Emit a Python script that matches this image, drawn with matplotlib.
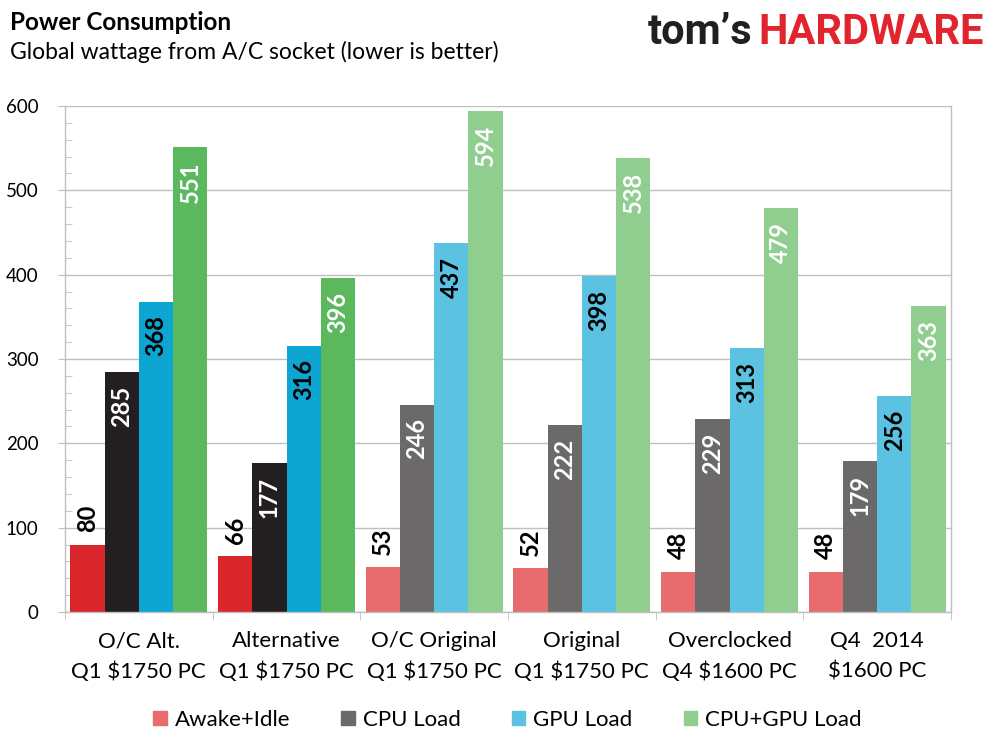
import numpy as np
import matplotlib
matplotlib.use('Agg')
import matplotlib.pyplot as plt
from matplotlib.patches import Patch

plt.rcParams['font.family'] = ['Lato', 'DejaVu Sans']

# data
grupos = ['O/C Alt.\nQ1 $1750 PC', 'Alternative\nQ1 $1750 PC', 'O/C Original\nQ1 $1750 PC',
          'Original\nQ1 $1750 PC', 'Overclocked\nQ4 $1600 PC', 'Q4  2014\n$1600 PC']
series = ['Awake+Idle', 'CPU Load', 'GPU Load', 'CPU+GPU Load']
idle = [80, 66, 53, 52, 48, 48]
cpu = [285, 177, 246, 222, 229, 179]
gpu = [368, 316, 437, 398, 313, 256]
cpu_gpu = [551, 396, 594, 538, 479, 363]
destaque = [True, True, False, False, False, False]  # first two groups drawn in strong colours

cores_fortes = ['#D8262B', '#231F20', '#0DA5D2', '#5BB85D']
cores_claras = ['#E86B6E', '#6B696A', '#5BC3E1', '#8FCE8F']
cor_texto = ['black', 'white', 'black', 'white']
cinza = '#BFBFBF'

valores = [idle, cpu, gpu, cpu_gpu]

fig = plt.figure(figsize=(9.89, 7.42), dpi=100)
ax = fig.add_axes([65/989, 1-612/742, (951-65)/989, (612-106)/742])

larg = 0.232
x = np.arange(len(grupos)) + 0.5
for s in range(4):
    pos = x + (s - 1.5) * larg
    cores = [cores_fortes[s] if d else cores_claras[s] for d in destaque]
    ax.bar(pos, valores[s], width=larg, color=cores, zorder=2)
    for xi, v in zip(pos, valores[s]):
        if v < 100:
            ax.annotate(str(v), (xi, v), xytext=(0, 9), textcoords='offset points',
                        rotation=90, ha='center', va='bottom', fontsize=17,
                        fontweight='bold', color='black', zorder=3)
        else:
            ax.annotate(str(v), (xi, v), xytext=(0, -10), textcoords='offset points',
                        rotation=90, ha='center', va='top', fontsize=17,
                        fontweight='bold', color=cor_texto[s], zorder=3)

ax.set_xlim(0, len(grupos))
ax.set_ylim(0, 600)
ax.set_yticks(np.arange(0, 601, 100))
ax.set_yticks(np.arange(0, 601, 20), minor=True)
ax.yaxis.grid(True, which='major', color=cinza, linewidth=1, zorder=0)
ax.tick_params(axis='y', which='major', direction='out', length=5, color=cinza,
               labelsize=13.5, pad=14)
ax.tick_params(axis='y', which='minor', direction='in', length=5, color=cinza)

ax.set_xticks(x)
ax.set_xticklabels(grupos, fontsize=16, linespacing=1.6)
ax.set_xticks(np.arange(0, len(grupos) + 1), minor=True)
ax.tick_params(axis='x', which='major', length=0, pad=14)
ax.tick_params(axis='x', which='minor', direction='out', length=6, color=cinza)

for lado in ['left', 'right', 'bottom']:
    ax.spines[lado].set_color(cinza)
    ax.spines[lado].set_linewidth(1)
ax.spines['top'].set_visible(False)

handles = [Patch(color=c) for c in cores_claras]
fig.legend(handles, series, loc='center', bbox_to_anchor=(0.513, 1-720/742), ncol=4,
           frameon=False, fontsize=16, handlelength=0.62, handleheight=0.62,
           handletextpad=0.35, columnspacing=2.3, borderpad=0.2)

fig.text(10/989, 1-22/742, 'Power Consumption', fontsize=17.5, fontweight='bold',
         va='center', ha='left')
fig.text(10/989, 1-52/742, 'Global wattage from A/C socket (lower is better)', fontsize=16.5,
         va='center', ha='left')

# logo
fig.text(752/989, 1-33/742, 'tom\u2019s', fontsize=30, fontweight='bold', color='#231F20',
         family='Roboto', ha='right', va='center')
fig.text(758/989, 1-33/742, 'HARDWARE', fontsize=30, fontweight='bold', color='#E0252F',
         family='Roboto', ha='left', va='center')

fig.savefig('out.png', dpi=100)
